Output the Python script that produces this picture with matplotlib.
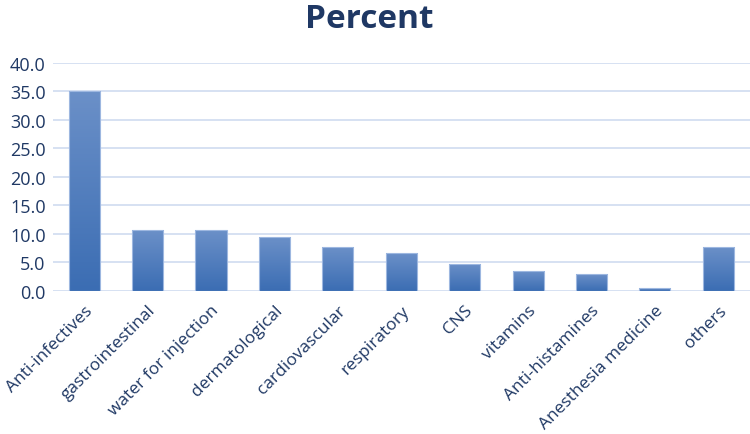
import numpy as np
import matplotlib.pyplot as plt
from matplotlib.colors import LinearSegmentedColormap

categories = ['Anti-infectives', 'gastrointestinal', 'water for injection', 'dermatological',
              'cardiovascular', 'respiratory', 'CNS', 'vitamins', 'Anti-histamines',
              'Anesthesia medicine', 'others']
percent = [35.0, 10.6, 10.6, 9.4, 7.7, 6.6, 4.8, 3.5, 2.9, 0.5, 7.7]
yticks = [0, 5, 10, 15, 20, 25, 30, 35, 40]

plt.rcParams['font.family'] = ['Open Sans', 'DejaVu Sans']
txt = '#1F3864'

fig = plt.figure(figsize=(7.5, 4.35), dpi=100)
ax = fig.add_axes([0.07, 0.329, 0.93, 0.524])

x = np.arange(len(categories))
w = 0.49
bars = ax.bar(x, percent, width=w, color='none', edgecolor='#9DB7E0', linewidth=0.8, zorder=3)

# gradient fill, light at top, dark at bottom
cmap = LinearSegmentedColormap.from_list('g', ['#3B6DB3', '#6B90C8'])
grad = np.linspace(0, 1, 256).reshape(-1, 1)
for b in bars:
    x0, y0 = b.get_x(), b.get_y()
    im = ax.imshow(grad, cmap=cmap, aspect='auto', origin='lower',
                   extent=[x0, x0 + b.get_width(), y0, y0 + b.get_height()], zorder=2)
    im.set_clip_path(b)

ax.set_xlim(-0.5, len(categories) - 0.5)
ax.set_ylim(0, 40)
ax.set_yticks(yticks)
ax.set_yticklabels([f'{v:.1f}' for v in yticks], color=txt, fontsize=13)
ax.set_xticks(x)
ax.set_xticklabels(categories, rotation=45, ha='right', rotation_mode='anchor',
                   color=txt, fontsize=12.5)
ax.tick_params(axis='y', length=0, pad=5)
ax.tick_params(axis='x', length=0, pad=8)
ax.grid(axis='y', color='#D3DEF1', linewidth=1.3, zorder=0)
for s in ax.spines.values():
    s.set_visible(False)

fig.text(0.493, 0.955, 'Percent', ha='center', va='center', fontsize=24,
         fontweight='bold', color=txt)

fig.savefig('out.png', dpi=100)
